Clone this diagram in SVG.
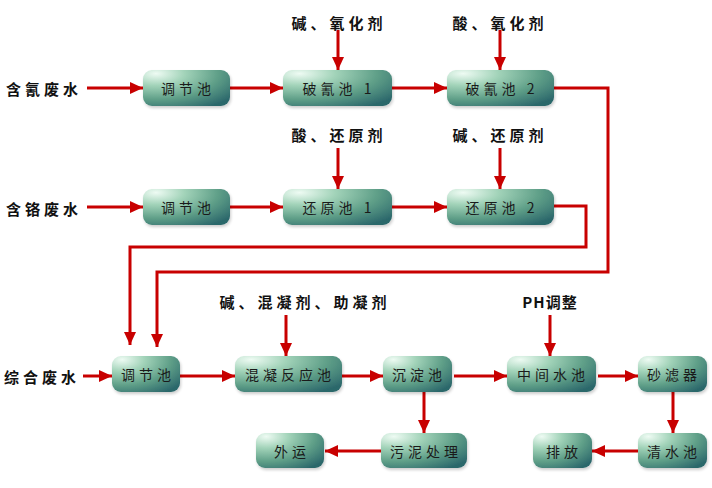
<svg xmlns="http://www.w3.org/2000/svg" width="712" height="488" viewBox="0 0 712 488">
<defs>
<radialGradient id="g" cx="0.15" cy="0.1" r="1.1" fx="0.15" fy="0.1">
<stop offset="0" stop-color="#eefbf3"/>
<stop offset="0.3" stop-color="#a2d3b9"/>
<stop offset="0.65" stop-color="#5f9f88"/>
<stop offset="1" stop-color="#2b676b"/>
</radialGradient>
<filter id="sh" x="-10%" y="-10%" width="125%" height="140%">
<feGaussianBlur in="SourceAlpha" stdDeviation="1.5"/>
<feOffset dx="1" dy="2"/>
<feComponentTransfer><feFuncA type="linear" slope="0.2"/></feComponentTransfer>
<feMerge><feMergeNode/><feMergeNode in="SourceGraphic"/></feMerge>
</filter>
<marker id="ah" markerUnits="userSpaceOnUse" markerWidth="14" markerHeight="14" viewBox="0 0 14 14" refX="13" refY="7" orient="auto">
<path d="M0,1 L13,7 L0,13 Z" fill="#c80000"/>
</marker>
</defs>
<style>
.box{fill:url(#g);filter:url(#sh)}
.bt{font-family:"Noto Sans CJK SC","Liberation Serif",serif;font-size:14px;text-anchor:middle;dominant-baseline:central;letter-spacing:4px}
.lb{font-family:"Noto Sans CJK SC","Liberation Serif",serif;font-size:15px;font-weight:bold;fill:#111;text-anchor:middle;dominant-baseline:central;letter-spacing:4px}
.c{fill:none;stroke:#c80000;stroke-width:3}
.a{marker-end:url(#ah)}
</style>
<rect width="712" height="488" fill="#fff"/>
<g id="labels">
<text class="lb" x="44" y="88">含氰废水</text>
<text class="lb" x="44" y="208">含铬废水</text>
<text class="lb" x="42" y="376">综合废水</text>
<text class="lb" x="339" y="22">碱、氧化剂</text>
<text class="lb" x="500" y="22">酸、氧化剂</text>
<text class="lb" x="339" y="134">酸、还原剂</text>
<text class="lb" x="500" y="134">碱、还原剂</text>
<text class="lb" x="305" y="301">碱、混凝剂、助凝剂</text>
<text class="lb" x="550" y="301" style="letter-spacing:1px">PH调整</text>
</g>
<g id="connectors">
<path class="c a" d="M87,88 H143"/>
<path class="c a" d="M230,88 H283"/>
<path class="c a" d="M392,88 H447"/>
<path class="c a" d="M338,30 V70"/>
<path class="c a" d="M500,30 V70"/>
<path class="c a" d="M554,88 H608 V272 H157 V347"/>
<path class="c a" d="M87,207 H143"/>
<path class="c a" d="M230,207 H283"/>
<path class="c a" d="M392,207 H447"/>
<path class="c a" d="M338,148 V189"/>
<path class="c a" d="M500,148 V189"/>
<path class="c a" d="M554,206 H586 V247 H130 V345"/>
<path class="c a" d="M83,376 H112"/>
<path class="c a" d="M180,376 H235"/>
<path class="c a" d="M342,376 H383"/>
<path class="c a" d="M454,376 H507"/>
<path class="c a" d="M598,376 H638"/>
<path class="c a" d="M286,315 V356"/>
<path class="c a" d="M550,315 V356"/>
<path class="c a" d="M673,392 V433"/>
<path class="c a" d="M638,451 H592"/>
<path class="c a" d="M424,392 V433"/>
<path class="c a" d="M381,451 H325"/>
</g>
<g id="n1"><rect class="box" x="143" y="70" width="87" height="36" rx="9"/><text class="bt" x="188" y="88" style="fill:#1a1a1a">调节池</text></g>
<g id="n2"><rect class="box" x="283" y="70" width="109" height="36" rx="9"/><text class="bt" x="339" y="88" style="fill:#1a1a1a">破氰池 1</text></g>
<g id="n3"><rect class="box" x="447" y="70" width="107" height="36" rx="9"/><text class="bt" x="502" y="88" style="fill:#1a1a1a">破氰池 2</text></g>
<g id="n4"><rect class="box" x="143" y="189" width="87" height="36" rx="9"/><text class="bt" x="188" y="207" style="fill:#1a1a1a">调节池</text></g>
<g id="n5"><rect class="box" x="283" y="189" width="109" height="36" rx="9"/><text class="bt" x="339" y="207" style="fill:#1a1a1a">还原池 1</text></g>
<g id="n6"><rect class="box" x="447" y="189" width="107" height="36" rx="9"/><text class="bt" x="502" y="207" style="fill:#1a1a1a">还原池 2</text></g>
<g id="n7"><rect class="box" x="112" y="356" width="68" height="36" rx="9"/><text class="bt" x="148" y="374" style="fill:#1a1a1a">调节池</text></g>
<g id="n8"><rect class="box" x="235" y="356" width="107" height="36" rx="9"/><text class="bt" x="290" y="374" style="fill:#1a1a1a">混凝反应池</text></g>
<g id="n9"><rect class="box" x="383" y="356" width="69" height="36" rx="9"/><text class="bt" x="419" y="374" style="fill:#1a1a1a">沉淀池</text></g>
<g id="n10"><rect class="box" x="507" y="356" width="89" height="36" rx="9"/><text class="bt" x="553" y="374" style="fill:#1a1a1a">中间水池</text></g>
<g id="n11"><rect class="box" x="638" y="356" width="69" height="36" rx="9"/><text class="bt" x="674" y="374" style="fill:#1a1a1a">砂滤器</text></g>
<g id="n12"><rect class="box" x="638" y="433" width="69" height="35" rx="9"/><text class="bt" x="674" y="451" style="fill:#1a1a1a">清水池</text></g>
<g id="n13"><rect class="box" x="533" y="433" width="59" height="35" rx="9"/><text class="bt" x="564" y="451" style="fill:#1a1a1a">排放</text></g>
<g id="n14"><rect class="box" x="381" y="433" width="86" height="35" rx="9"/><text class="bt" x="426" y="451" style="fill:#1a1a1a">污泥处理</text></g>
<g id="n15"><rect class="box" x="256" y="433" width="68" height="35" rx="9"/><text class="bt" x="292" y="451" style="fill:#1a1a1a">外运</text></g>
</svg>
